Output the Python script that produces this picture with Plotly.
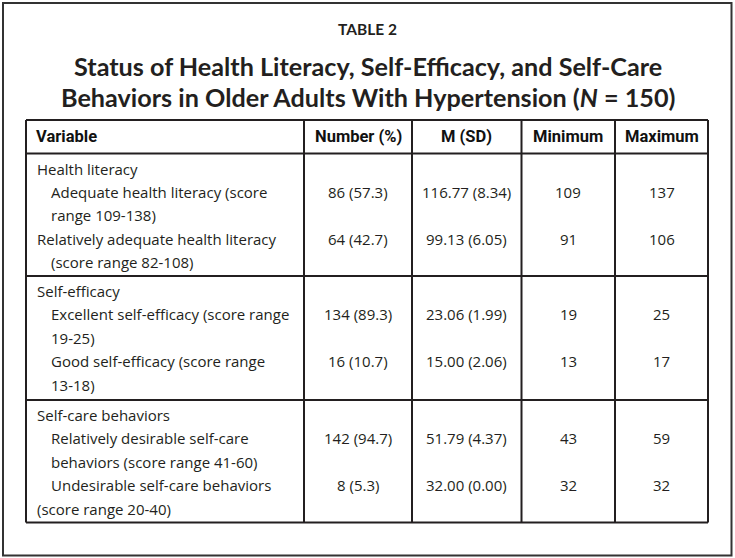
import plotly.graph_objects as go

# ---------------- data ----------------
table_label = "TABLE 2"
title_lines = [
    "Status of Health Literacy, Self-Efficacy, and Self-Care",
    "Behaviors in Older Adults With Hypertension (<i>N</i> = 150)",
]
columns = ["Variable", "Number (%)", "M (SD)", "Minimum", "Maximum"]
sections = ["Health literacy", "Self-efficacy", "Self-care behaviors"]
item_lines = [
    [["Adequate health literacy (score", "range 109-138)"],
     ["Relatively adequate health literacy", "(score range 82-108)"]],
    [["Excellent self-efficacy (score range", "19-25)"],
     ["Good self-efficacy (score range", "13-18)"]],
    [["Relatively desirable self-care", "behaviors (score range 41-60)"],
     ["Undesirable self-care behaviors", "(score range 20-40)"]],
]
number_pct = [["86 (57.3)", "64 (42.7)"], ["134 (89.3)", "16 (10.7)"], ["142 (94.7)", "8 (5.3)"]]
m_sd = [["116.77 (8.34)", "99.13 (6.05)"], ["23.06 (1.99)", "15.00 (2.06)"], ["51.79 (4.37)", "32.00 (0.00)"]]
minimum = [[109, 91], [19, 13], [43, 32]]
maximum = [[137, 106], [25, 17], [59, 32]]

# ---------------- styling / geometry ----------------
W, H = 735, 558
INK = "#231f20"
BODY = "Open Sans, Noto Sans, sans-serif"
HEAD = "Roboto, sans-serif"
TITLE = "Lato, Open Sans, sans-serif"

col_edges = [26, 304, 412, 521.5, 615, 708]
table_top, header_bottom = 120, 153.5
section_bounds = [153.5, 276, 400, 522.5]
first_line_off, line_gap = 15.0, 23.4
# indent level of every text line in a section (name, item1 l1, item1 l2, item2 l1, item2 l2)
indents = [[0, 1, 1, 0, 1], [0, 1, 1, 1, 1], [0, 1, 1, 1, 0]]
indent_x = [35, 49]

fig = go.Figure()
fig.add_trace(go.Scatter(x=[0, W], y=[0, H], mode="markers", marker=dict(opacity=0),
                         hoverinfo="skip", showlegend=False))

shapes = []
def hline(y, x0=col_edges[0], x1=col_edges[-1]):
    shapes.append(dict(type="line", xref="x", yref="y", x0=x0, x1=x1, y0=y, y1=y,
                       line=dict(color=INK, width=2)))
def vline(x, y0, y1):
    shapes.append(dict(type="line", xref="x", yref="y", x0=x, x1=x, y0=y0, y1=y1,
                       line=dict(color=INK, width=2)))

# outer frame
shapes.append(dict(type="rect", xref="x", yref="y", x0=3, x1=731.5, y0=3, y1=555.5,
                   line=dict(color="#333333", width=2)))
# table grid
hline(table_top)
for yb in section_bounds:
    hline(yb)
for xe in col_edges:
    vline(xe, table_top, section_bounds[-1])

ann = []
def text(x, y, s, size, family, anchor="left", color=INK):
    ann.append(dict(x=x, y=y, xref="x", yref="y", text=s, showarrow=False,
                    xanchor=anchor, yanchor="middle",
                    font=dict(size=size, family=family, color=color)))

# titles
text(367, 29, "<b>" + table_label + "</b>", 15.5, TITLE, "center")
text(368, 66, "<b>" + title_lines[0] + "</b>", 25.2, TITLE, "center")
text(368, 97, "<b>" + title_lines[1] + "</b>", 25.2, TITLE, "center")

# header
hy = (table_top + header_bottom) / 2
text(34, hy, "<b>" + columns[0] + "</b>", 16.5, HEAD, "left", "#111111")
for i in range(1, 5):
    cx = (col_edges[i] + col_edges[i + 1]) / 2
    text(cx, hy, "<b>" + columns[i] + "</b>", 16.5, HEAD, "center", "#111111")

# body
centers = [(col_edges[i] + col_edges[i + 1]) / 2 for i in range(1, 5)]
for s, name in enumerate(sections):
    top = section_bounds[s]
    ys = [top + first_line_off + k * line_gap for k in range(5)]
    lines = [name] + item_lines[s][0] + item_lines[s][1]
    for k, ln in enumerate(lines):
        text(indent_x[indents[s][k]], ys[k], ln, 15, BODY, "left")
    for j in range(2):
        yv = ys[1 + 2 * j]
        vals = [number_pct[s][j], m_sd[s][j], str(minimum[s][j]), str(maximum[s][j])]
        for c, v in enumerate(vals):
            text(centers[c], yv, v, 15, BODY, "center")

fig.update_layout(
    width=W, height=H, margin=dict(l=0, r=0, t=0, b=0),
    paper_bgcolor="white", plot_bgcolor="white",
    xaxis=dict(range=[0, W], visible=False, fixedrange=True),
    yaxis=dict(range=[H, 0], visible=False, fixedrange=True),
    shapes=shapes, annotations=ann, showlegend=False,
)
fig.write_html("out.html", config={"displayModeBar": False},
               post_script="document.body.style.margin='0';document.body.style.overflow='hidden';")
